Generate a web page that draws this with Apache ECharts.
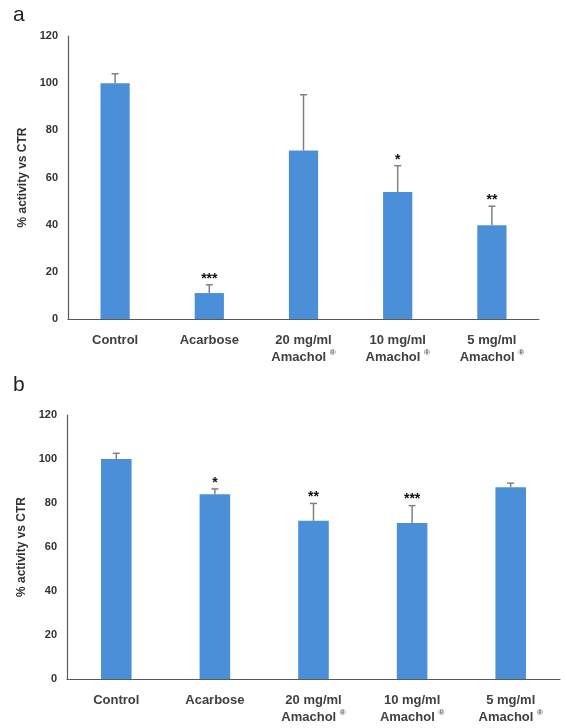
<!DOCTYPE html>
<html>
	<head>
		<meta charset="utf-8">
		<title>activity vs CTR</title>
		<script src="https://cdn.jsdelivr.net/npm/echarts@6/dist/echarts.min.js"></script>
		<style>
			body { margin: 0; background: #fff; }
		</style>
	</head>
	<body>
		<div id="main" style="width: 567px;height:728px;"></div>
	</body>
	<script type="text/javascript">

        // groups, same for both panels
        var categories = ['Control', 'Acarbose', '20 mg/ml\nAmachol ®', '10 mg/ml\nAmachol ®', '5 mg/ml\nAmachol ®'];

        // panel a
        var valuesA = [100, 11, 71.5, 53.8, 39.8];
        var errorsA = [4, 3.5, 23.6, 11.2, 8];
        var starsA = ['', '***', '', '*', '**'];

        // panel b
        var valuesB = [100, 84, 71.9, 70.9, 87.2];
        var errorsB = [2.6, 2.4, 7.9, 7.9, 1.8];
        var starsB = ['', '*', '**', '***', ''];

        var yTicks = [0, 20, 40, 60, 80, 100, 120];

        var barColor = '#4a8fd8';
        var textColor = '#333333';
        var axisColor = '#595959';

	    var myChart = echarts.init(document.getElementById('main'));

        // error bar (top only) + significance stars
        var errorRender = function (errs, stars) {
            return function (params, api) {
                var i = api.value(0);
                var top = api.value(1) + errs[params.dataIndex];
                var p0 = api.coord([i, api.value(1)]);
                var p1 = api.coord([i, top]);
                var children = [
                    {type: 'line', shape: {x1: p0[0], y1: p0[1], x2: p1[0], y2: p1[1]},
                        style: {stroke: '#808080', lineWidth: 1.5}},
                    {type: 'line', shape: {x1: p1[0] - 3.5, y1: p1[1], x2: p1[0] + 3.5, y2: p1[1]},
                        style: {stroke: '#808080', lineWidth: 1.5}}
                ];
                if (stars[params.dataIndex]) {
                    children.push({
                        type: 'text',
                        style: {
                            text: stars[params.dataIndex],
                            x: p1[0], y: p1[1] - 6,
                            textAlign: 'center', textVerticalAlign: 'middle',
                            font: 'bold 14px "Liberation Sans", Arial, sans-serif',
                            fill: '#111'
                        }
                    });
                }
                return {type: 'group', children: children};
            };
        };

        var catLabel = function (value) {
            return value.replace('®', '{r|®}');
        };

        var makeX = function (gi) {
            return {
                type: 'category',
                gridIndex: gi,
                data: categories,
                axisLine: {lineStyle: {color: axisColor, width: 1.2}},
                axisTick: {show: false},
                axisLabel: {
                    interval: 0,
                    margin: 13,
                    color: '#404040',
                    fontWeight: 'bold',
                    fontSize: 13,
                    fontFamily: '"Liberation Sans", Arial, sans-serif',
                    lineHeight: 17,
                    formatter: catLabel,
                    rich: {r: {fontSize: 8, fontWeight: 'bold', color: '#555', verticalAlign: 'top', padding: [0, 0, 6, 0]}}
                }
            };
        };

        var makeY = function (gi) {
            return {
                type: 'value',
                gridIndex: gi,
                min: yTicks[0],
                max: yTicks[yTicks.length - 1],
                interval: 20,
                name: '% activity vs CTR',
                nameLocation: 'middle',
                nameGap: 37,
                nameTextStyle: {
                    color: textColor, fontWeight: 'bold', fontSize: 12,
                    fontFamily: '"Liberation Sans", Arial, sans-serif'
                },
                splitLine: {show: false},
                axisTick: {show: false},
                axisLine: {show: true, lineStyle: {color: axisColor, width: 1.2}},
                axisLabel: {
                    margin: 10,
                    color: textColor,
                    fontWeight: 'bold',
                    fontSize: 11,
                    fontFamily: '"Liberation Sans", Arial, sans-serif'
                }
            };
        };

        var errData = function (vals) {
            var out = [];
            for (var i = 0; i < vals.length; i++) {
                out.push([i, vals[i]]);
            }
            return out;
        };

	    var option = {
            animation: false,
            title: [
                {text: 'a', left: 8, top: 0, textStyle: {fontSize: 21, fontWeight: 'normal', color: '#222', fontFamily: '"Liberation Sans", Arial, sans-serif'}},
                {text: 'b', left: 8, top: 370, textStyle: {fontSize: 21, fontWeight: 'normal', color: '#222', fontFamily: '"Liberation Sans", Arial, sans-serif'}}
            ],
            grid: [
                {left: 68, top: 36, width: 471, height: 283},
                {left: 67, top: 415, width: 493, height: 264}
            ],
            xAxis: [makeX(0), makeX(1)],
            yAxis: [makeY(0), makeY(1)],
            series: [
                {
                    type: 'bar',
                    xAxisIndex: 0, yAxisIndex: 0,
                    data: valuesA,
                    barWidth: '31%',
                    itemStyle: {color: barColor}
                },
                {
                    type: 'custom',
                    xAxisIndex: 0, yAxisIndex: 0,
                    data: errData(valuesA),
                    renderItem: errorRender(errorsA, starsA),
                    z: 3
                },
                {
                    type: 'bar',
                    xAxisIndex: 1, yAxisIndex: 1,
                    data: valuesB,
                    barWidth: '31%',
                    itemStyle: {color: barColor}
                },
                {
                    type: 'custom',
                    xAxisIndex: 1, yAxisIndex: 1,
                    data: errData(valuesB),
                    renderItem: errorRender(errorsB, starsB),
                    z: 3
                }
            ]
	    };

	    myChart.setOption(option);

	</script>

</html>
